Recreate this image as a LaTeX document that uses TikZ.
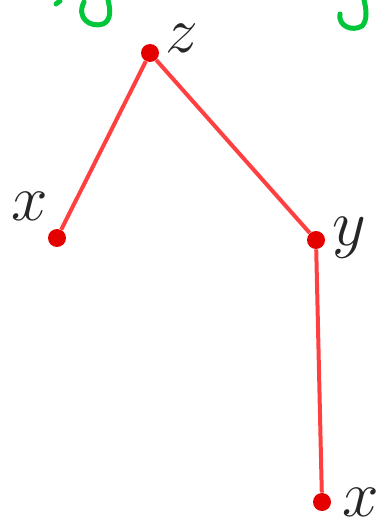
\documentclass[tikz,border=0pt]{standalone}
\usepackage{amsmath, amssymb}
\usepackage{tikz}
\usetikzlibrary{positioning}

\begin{document}
\begin{tikzpicture}[
  x=0.02cm, y=-0.02cm,
  vertex/.style={circle, fill=red!90!black, inner sep=0pt, minimum size=0.36cm},
  lbl/.style={text=black!85, font=\Huge, inner sep=0pt, scale=1.5, transform shape},
  link/.style={red!75, line width=0.08cm},
  scrawl/.style={green!55!teal, line width=0.1cm, line cap=round}
]
\useasboundingbox (0,0) rectangle (390,527);

\node[vertex] (x1) at (57,238) {};
\node[vertex] (z) at (150,53) {};
\node[vertex] (y) at (316,240) {};
\node[vertex] (x2) at (322,502) {};

\node[lbl] (lx1) at (30,206) {$x$};
\node[lbl] (lz) at (182,38) {$z$};
\node[lbl] (ly) at (349,238) {$y$};
\node[lbl] (lx2) at (361,502) {$x$};

\draw[link] (x1) -- (z);
\draw[link] (z) -- (y);
\draw[link] (y) -- (x2);

% cut-off letters at the top edge
\draw[scrawl] (56,4) -- (60,1);
\draw[scrawl] (84,2) .. controls (76,18) and (90,28) .. (103,24) .. controls (112,20) and (110,8) .. (108,0);
\draw[scrawl] (340,14) .. controls (338,26) and (352,32) .. (362,26) .. controls (368,20) and (366,8) .. (364,0);
\end{tikzpicture}
\end{document}
